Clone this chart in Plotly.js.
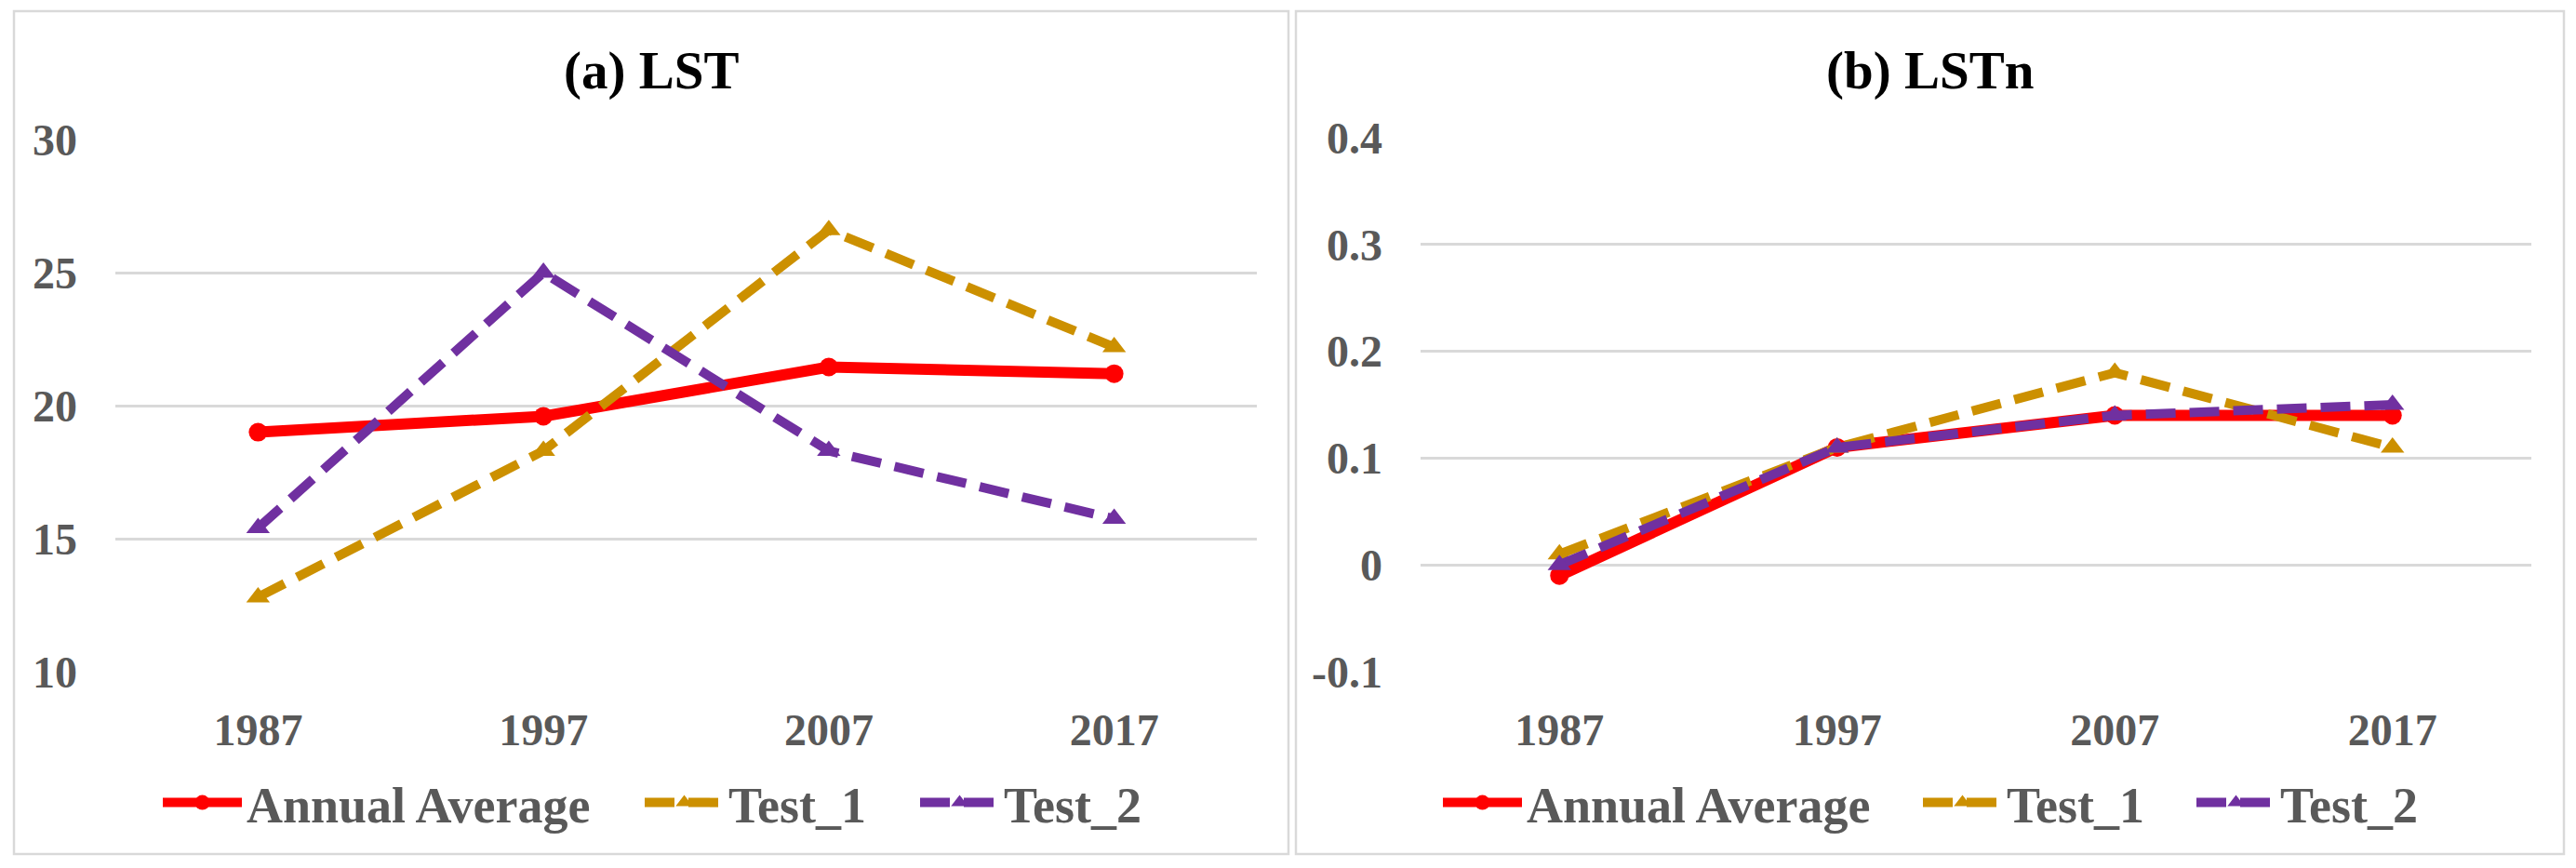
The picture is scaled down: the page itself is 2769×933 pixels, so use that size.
<!DOCTYPE html>
<html>
<head>
<meta charset="utf-8">
<script src="https://cdn.plot.ly/plotly-3.0.1.min.js"></script>
<style>html,body{margin:0;padding:0;background:#fff;}</style>
</head>
<body>
<div id="chart" style="width:2769px;height:933px;"></div>
<script>
// ---- data ----
var years = ['1987', '1997', '2007', '2017'];
var seriesNames = ['Annual Average', 'Test_1', 'Test_2'];
var lstAnnual = [19.0, 19.6, 21.45, 21.2];
var lstTest1  = [12.8, 18.3, 26.6, 22.2];
var lstTest2  = [15.4, 25.0, 18.3, 15.75];
var lstnAnnual = [-0.01, 0.11, 0.14, 0.14];
var lstnTest1  = [0.01, 0.11, 0.18, 0.11];
var lstnTest2  = [0.0, 0.11, 0.14, 0.15];
var lstTicks = [10, 15, 20, 25, 30];
var lstnTicks = [-0.1, 0, 0.1, 0.2, 0.3, 0.4];
var lstnTickText = ['-0.1', '0', '0.1', '0.2', '0.3', '0.4'];
var panelTitles = ['(a) LST', '(b) LSTn'];

// ---- layout helpers ----
var W = 2769, H = 933;
function px(x) { return x / W; }
function py(y) { return 1 - y / H; }
var FONT = '"Liberation Serif", "Times New Roman", serif';
var GRAY = '#595959';
var colors = ['#FF0000', '#CC9000', '#7030A0'];
var symbols = ['circle', 'triangle-up', 'triangle-up'];
var sizes = [20, 22, 22];

function makeTrace(name, y, idx, xa, ya, legendId) {
  return {
    type: 'scatter', mode: 'lines+markers',
    x: years, y: y, name: name,
    xaxis: xa, yaxis: ya, legend: legendId,
    line: { color: colors[idx], width: idx === 0 ? 12 : 10, dash: idx === 0 ? 'solid' : '32px,15px' },
    marker: { color: colors[idx], size: sizes[idx], symbol: symbols[idx] },
    hoverinfo: 'skip'
  };
}

var data = [
  makeTrace(seriesNames[0], lstAnnual, 0, 'x', 'y', 'legend'),
  makeTrace(seriesNames[1], lstTest1, 1, 'x', 'y', 'legend2'),
  makeTrace(seriesNames[2], lstTest2, 2, 'x', 'y', 'legend3'),
  makeTrace(seriesNames[0], lstnAnnual, 0, 'x2', 'y2', 'legend4'),
  makeTrace(seriesNames[1], lstnTest1, 1, 'x2', 'y2', 'legend5'),
  makeTrace(seriesNames[2], lstnTest2, 2, 'x2', 'y2', 'legend6')
];

var tickFont = { family: FONT, size: 48, color: GRAY, weight: 700 };
var legFont = { family: FONT, size: 54, color: GRAY, weight: 700 };

function xAxis(d, anchor) {
  return {
    domain: d, anchor: anchor, type: 'category', range: [-0.5, 3.5],
    showgrid: false, zeroline: false, showline: false,
    ticks: '', tickfont: tickFont, ticklabelstandoff: 30, fixedrange: true
  };
}
function yAxis(d, anchor, range, tv, tt) {
  return {
    domain: d, anchor: anchor, range: range, tickvals: tv, ticktext: tt,
    showgrid: true, gridcolor: '#D9D9D9', gridwidth: 3,
    zeroline: false, showline: false, ticks: '',
    tickfont: tickFont, ticklabelstandoff: 40, fixedrange: true
  };
}
function legend(xpx) {
  return {
    orientation: 'h', x: px(xpx), y: py(863), xanchor: 'left', yanchor: 'middle',
    bgcolor: 'rgba(0,0,0,0)', borderwidth: 0, font: legFont, itemwidth: 85,
    itemclick: false, itemdoubleclick: false
  };
}

var layout = {
  width: W, height: H,
  margin: { l: 0, r: 0, t: 0, b: 0 },
  paper_bgcolor: '#FFFFFF', plot_bgcolor: '#FFFFFF',
  xaxis: xAxis([px(124), px(1351)], 'y'),
  yaxis: yAxis([py(722), py(150)], 'x', [10, 30], lstTicks, lstTicks.map(String)),
  xaxis2: xAxis([px(1527), px(2721)], 'y2'),
  yaxis2: yAxis([py(722), py(148)], 'x2', [-0.1, 0.4], lstnTicks, lstnTickText),
  legend: legend(170),
  legend2: legend(688),
  legend3: legend(984),
  legend4: legend(1546),
  legend5: legend(2062),
  legend6: legend(2356),
  shapes: [
    { type: 'rect', xref: 'paper', yref: 'paper', x0: px(15), x1: px(1385), y0: py(918), y1: py(12),
      line: { color: '#D9D9D9', width: 2.5 }, fillcolor: 'rgba(0,0,0,0)', layer: 'below' },
    { type: 'rect', xref: 'paper', yref: 'paper', x0: px(1393), x1: px(2756), y0: py(918), y1: py(12),
      line: { color: '#D9D9D9', width: 2.5 }, fillcolor: 'rgba(0,0,0,0)', layer: 'below' }
  ],
  annotations: [
    { text: '<b>' + panelTitles[0] + '</b>', xref: 'paper', yref: 'paper', x: px(700), y: py(76),
      xanchor: 'center', yanchor: 'middle', showarrow: false, font: { family: FONT, size: 57, color: '#000000' } },
    { text: '<b>' + panelTitles[1] + '</b>', xref: 'paper', yref: 'paper', x: px(2074), y: py(76),
      xanchor: 'center', yanchor: 'middle', showarrow: false, font: { family: FONT, size: 57, color: '#000000' } }
  ],
  showlegend: true
};

Plotly.newPlot('chart', data, layout, { displayModeBar: false, staticPlot: true });
</script>
</body>
</html>
